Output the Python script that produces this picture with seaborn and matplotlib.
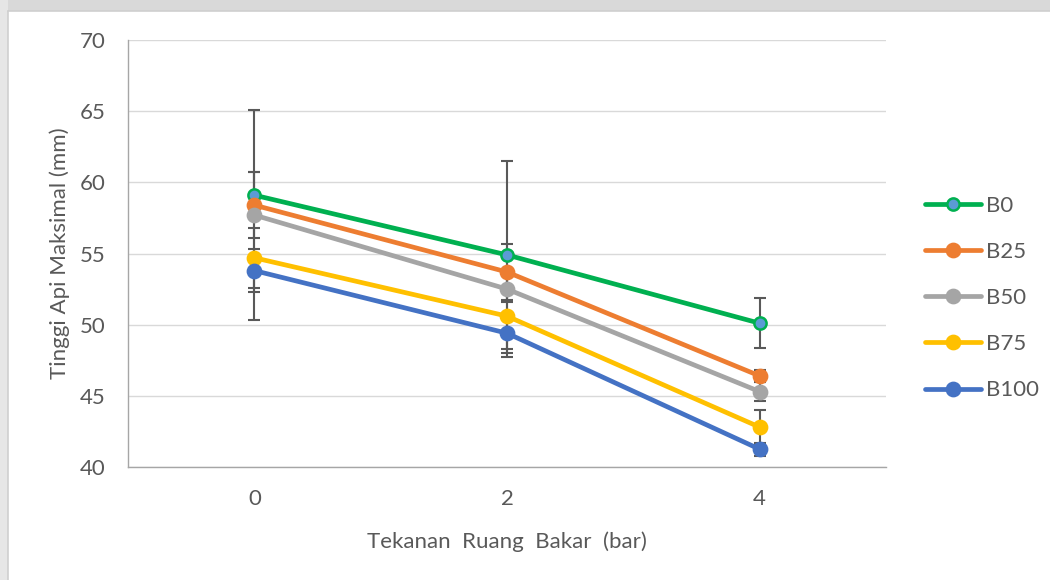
import numpy as np
import pandas as pd
import matplotlib
matplotlib.use("Agg")
import matplotlib.pyplot as plt
import seaborn as sns
from matplotlib.patches import Rectangle
from matplotlib.lines import Line2D

# Data: maximum flame height per fuel blend at each chamber pressure
pressure = ["0", "2", "4"]
series_names = ["B0", "B25", "B50", "B75", "B100"]
b0 = [59.1, 54.9, 50.1]
b25 = [58.4, 53.7, 46.4]
b50 = [57.7, 52.5, 45.3]
b75 = [54.7, 50.6, 42.8]
b100 = [53.8, 49.4, 41.25]
b0_err = [1.6, 6.6, 1.75]
b25_err = [2.3, 2.0, 0.4]
b50_err = [7.4, 0.9, 0.65]
b75_err = [2.1, 2.9, 1.2]
b100_err = [1.5, 1.4, 0.45]

values = [b0, b25, b50, b75, b100]
errors = [b0_err, b25_err, b50_err, b75_err, b100_err]
colors = ["#00B050", "#ED7D31", "#A5A5A5", "#FFC000", "#4472C4"]

df = pd.DataFrame({
    "Tekanan": pressure * len(series_names),
    "Tinggi": sum(values, []),
    "Bahan": np.repeat(series_names, len(pressure)),
})

sns.set_theme(style="white")
plt.rcParams["font.family"] = ["Lato", "DejaVu Sans"]
text_color = "#595959"
fs = 16

fig = plt.figure(figsize=(10.5, 5.8), dpi=100)
fig.patch.set_facecolor("white")

# page background strips around the chart card
fig.patches.append(Rectangle((0, 1 - 11 / 580), 1, 11 / 580, transform=fig.transFigure,
                             facecolor="#d9d9d9", edgecolor="none", zorder=0))
fig.patches.append(Rectangle((0, 0), 8 / 1050, 1, transform=fig.transFigure,
                             facecolor="#e6e6e6", edgecolor="none", zorder=0))
fig.lines.append(Line2D([8 / 1050, 8 / 1050], [0, 1 - 11 / 580], transform=fig.transFigure,
                        color="#cfcfcf", lw=1.2))
fig.lines.append(Line2D([8 / 1050, 1], [1 - 11 / 580, 1 - 11 / 580], transform=fig.transFigure,
                        color="#cfcfcf", lw=1.2))

ax = fig.add_axes([128 / 1050, 113 / 580, 758 / 1050, 427 / 580])
ax.set_facecolor("white")

sns.pointplot(data=df, x="Tekanan", y="Tinggi", hue="Bahan", order=pressure,
              hue_order=series_names, palette=colors, markers="o", linestyles="-",
              errorbar=None, markersize=8.8, linewidth=3.4, ax=ax, zorder=3)

# per-point error bars at the categorical positions
xpos = np.arange(len(pressure))
for vals, errs in zip(values, errors):
    ax.errorbar(xpos, vals, yerr=errs, fmt="none", ecolor="#595959",
                elinewidth=1.5, capsize=4.5, capthick=1.5, zorder=2)

# B0 markers: blue fill with green outline
for ln in ax.lines:
    if matplotlib.colors.to_hex(ln.get_color()).lower() == colors[0].lower():
        ln.set_markerfacecolor("#5B9BD5")
        ln.set_markeredgecolor(colors[0])
        ln.set_markeredgewidth(1.8)

ax.set_ylim(40, 70)
ax.set_yticks([40, 45, 50, 55, 60, 65, 70])
ax.set_xlim(-0.5, 2.5)
ax.grid(axis="y", color="#d9d9d9", lw=1.0)
ax.grid(axis="x", visible=False)
ax.set_axisbelow(True)
for side in ["top", "right"]:
    ax.spines[side].set_visible(False)
for side in ["left", "bottom"]:
    ax.spines[side].set_color("#a6a6a6")
    ax.spines[side].set_linewidth(1.0)
ax.tick_params(axis="both", length=0, labelsize=fs, colors=text_color)
ax.tick_params(axis="y", pad=16)
ax.tick_params(axis="x", pad=16)

ax.set_xlabel("Tekanan  Ruang  Bakar  (bar)", fontsize=fs, color=text_color, labelpad=16)
ax.set_ylabel("Tinggi Api Maksimal (mm)", fontsize=fs, color=text_color, labelpad=7)

handles, labels = ax.get_legend_handles_labels()
if ax.legend_:
    ax.legend_.remove()
leg = fig.legend(handles, labels, loc="center left", bbox_to_anchor=(925 / 1050, 1 - 298 / 580),
                 frameon=False, fontsize=fs, handlelength=2.5, handletextpad=0.25,
                 labelspacing=1.18, borderpad=0, borderaxespad=0)
for t in leg.get_texts():
    t.set_color(text_color)

fig.savefig("out.png", dpi=100, facecolor=fig.get_facecolor())
